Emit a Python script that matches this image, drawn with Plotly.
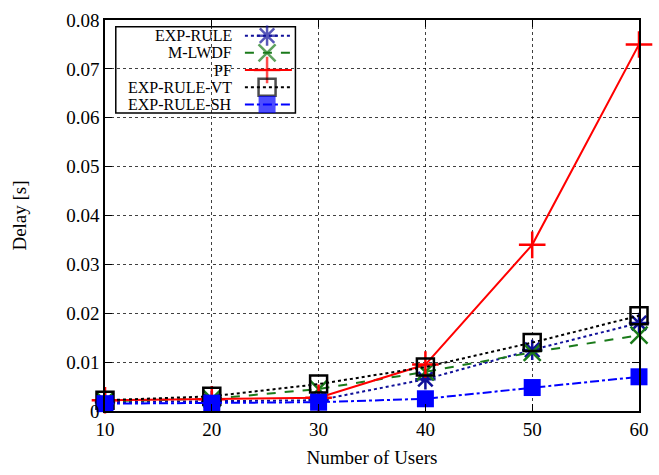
import plotly.graph_objects as go

users = [10, 20, 30, 40, 50, 60]
exp_rule = [0.0018, 0.0020, 0.0022, 0.0065, 0.0125, 0.0180]
m_lwdf = [0.0020, 0.0025, 0.0045, 0.0080, 0.0120, 0.0155]
pf = [0.0022, 0.0024, 0.0027, 0.0095, 0.0340, 0.0750]
exp_rule_vt = [0.0022, 0.0030, 0.0055, 0.0090, 0.0140, 0.0195]
exp_rule_sh = [0.0015, 0.0016, 0.0018, 0.0025, 0.0048, 0.0070]

y_ticks = [0, 0.01, 0.02, 0.03, 0.04, 0.05, 0.06, 0.07, 0.08]
y_labels = ["0", "0.01", "0.02", "0.03", "0.04", "0.05", "0.06", "0.07", "0.08"]

series_names = ["EXP-RULE", "M-LWDF", "PF", "EXP-RULE-VT", "EXP-RULE-SH"]
series_values = [exp_rule, m_lwdf, pf, exp_rule_vt, exp_rule_sh]

styles = [
    dict(line=dict(color="#10109a", width=2, dash="dot"),
         marker=dict(symbol="asterisk-open", size=17, color="#10109a", line=dict(width=2.5, color="#10109a"))),
    dict(line=dict(color="#1a7a1a", width=2, dash="dash"),
         marker=dict(symbol="x-thin-open", size=17, color="#1a7a1a", line=dict(width=2.5, color="#1a7a1a"))),
    dict(line=dict(color="#ff0000", width=2, dash="solid"),
         marker=dict(symbol="cross-thin-open", size=19, color="#ff0000", line=dict(width=2.5, color="#ff0000"))),
    dict(line=dict(color="#000000", width=2, dash="dot"),
         marker=dict(symbol="square-open", size=17, color="#000000", line=dict(width=2.5, color="#000000"))),
    dict(line=dict(color="#0000ff", width=2, dash="dashdot"),
         marker=dict(symbol="square", size=17, color="#0000ff", line=dict(width=0))),
]

fig = go.Figure()
for name, vals, st in zip(series_names, series_values, styles):
    fig.add_trace(go.Scatter(x=users, y=vals, name=name, mode="lines+markers",
                             line=st["line"], marker=st["marker"], showlegend=False,
                             cliponaxis=False))

# Custom legend (text right-aligned, sample on the right), drawn on an overlay axis 0..1
box = dict(x0=0.0202, x1=0.3566, y0=0.7624, y1=0.9827)
row_y = [0.9600, 0.9160, 0.8720, 0.8280, 0.7840]
text_x = 0.240
line_x0, line_x1, mark_x = 0.262, 0.350, 0.3035

fig.add_shape(type="rect", xref="x domain", yref="y domain", **box,
              line=dict(color="black", width=1.5), fillcolor="white", layer="below")
for name, ry, st in zip(series_names, row_y, styles):
    fig.add_annotation(x=text_x, y=ry, xref="x domain", yref="y domain", text=name, showarrow=False,
                       xanchor="right", yanchor="middle", borderpad=0,
                       font=dict(family="Liberation Serif", size=16, color="black"))
    m = dict(st["marker"])
    m["size"] = [0, m["size"], 0]
    fig.add_trace(go.Scatter(x=[line_x0, mark_x, line_x1], y=[ry, ry, ry], mode="lines+markers",
                             line=st["line"], marker=m, xaxis="x2", yaxis="y2",
                             showlegend=False, hoverinfo="skip", cliponaxis=False))

axis_common = dict(showline=True, linecolor="black", linewidth=1.5, mirror="ticks",
                   ticks="inside", ticklen=7, tickcolor="black",
                   showgrid=True, gridcolor="rgba(0,0,0,0.75)", griddash="dot", gridwidth=1,
                   zeroline=False, tickfont=dict(family="Liberation Serif", size=19, color="black"))

fig.update_layout(
    xaxis=dict(range=[10, 60], tickvals=users, ticktext=[str(u) for u in users],
               title=dict(text="Number of Users", font=dict(family="Liberation Serif", size=19, color="black"), standoff=12),
               **axis_common),
    yaxis=dict(range=[0, 0.08], tickvals=y_ticks, ticktext=y_labels,
               title=dict(text="Delay [s]", font=dict(family="Liberation Serif", size=19, color="black"), standoff=35),
               **axis_common),
    xaxis2=dict(range=[0, 1], overlaying="x", visible=False, fixedrange=True),
    yaxis2=dict(range=[0, 1], overlaying="y", visible=False, fixedrange=True),
    width=659, height=475, margin=dict(l=105, r=10, t=11, b=60),
    plot_bgcolor="white", paper_bgcolor="white",
    font=dict(family="Liberation Serif", size=18, color="black"),
    showlegend=False,
)

fig.write_html("out.html", config={"displayModeBar": False},
               post_script="document.body.style.margin='0';")
